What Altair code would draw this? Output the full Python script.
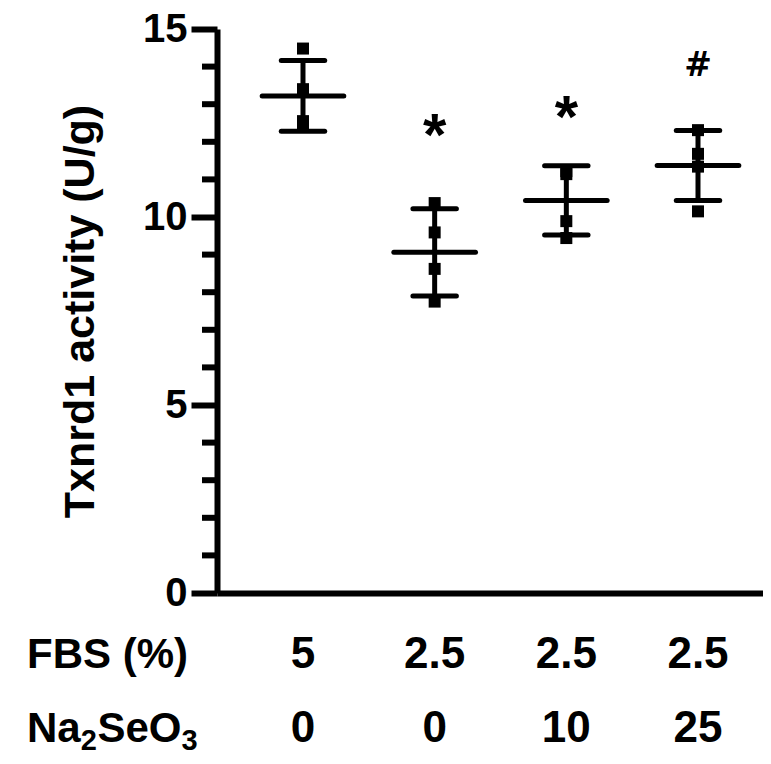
import altair as alt
import pandas as pd

# ---- data ----
positions = [1, 2, 3, 4]
fbs_labels = ["5", "2.5", "2.5", "2.5"]
na_labels = ["0", "0", "10", "25"]

means = [13.22, 9.06, 10.44, 11.37]
sds = [0.94, 1.16, 0.92, 0.93]

pts_g1 = [14.48, 13.40, 12.55, 12.47]
pts_g2 = [10.37, 9.59, 8.62, 7.75]
pts_g3 = [11.22, 11.14, 9.89, 9.44]
pts_g4 = [12.31, 11.68, 11.34, 10.15]

annot_pos = [2, 3, 4]
annot_text = ["*", "*", "#"]
annot_val = [12.45, 12.93, 14.06]

minor_ticks = [1, 2, 3, 4, 6, 7, 8, 9, 11, 12, 13, 14]
major_ticks = [0, 5, 10, 15]

# ---- styles ----
FONT = "Liberation Sans, Arial, Helvetica, sans-serif"
LW = 5
MEAN_HALF = 0.31
CAP_HALF = 0.165
PLOT_W, PLOT_H = 546, 564

xscale = alt.Scale(domain=[0.3469, 4.4937], nice=False, zero=False)
yscale = alt.Scale(domain=[0, 15], nice=False, zero=False)
xaxis = alt.Axis(labels=False, ticks=False, title=None, grid=False,
                 domainWidth=6, domainColor="black")
yaxis = alt.Axis(values=major_ticks, format="d", title="Txnrd1 activity (U/g)",
                 grid=False, domainWidth=6, domainColor="black",
                 tickWidth=6, tickSize=26, tickColor="black",
                 labelFont=FONT, labelFontSize=40, labelFontWeight="bold",
                 labelColor="black", labelPadding=4,
                 titleFont=FONT, titleFontSize=43, titleFontWeight="bold",
                 titleColor="black", titlePadding=40)


def X(f):
    return alt.X(f, type="quantitative", scale=xscale, axis=xaxis)


def Y(f):
    return alt.Y(f, type="quantitative", scale=yscale, axis=yaxis)


summary = pd.DataFrame({"pos": positions, "mean": means, "sd": sds})
summary["lo"] = summary["mean"] - summary["sd"]
summary["hi"] = summary["mean"] + summary["sd"]

rows = []
for p, vals in zip(positions, [pts_g1, pts_g2, pts_g3, pts_g4]):
    for v in vals:
        rows.append({"pos": p, "v": v})
points = pd.DataFrame(rows)

base_sum = alt.Chart(summary)

mean_line = base_sum.mark_rule(color="black", strokeWidth=LW, strokeCap="round").transform_calculate(
    xa=f"datum.pos - {MEAN_HALF}", xb=f"datum.pos + {MEAN_HALF}"
).encode(x=X("xa"), x2="xb:Q", y=Y("mean"))

cap_hi = base_sum.mark_rule(color="black", strokeWidth=LW, strokeCap="round").transform_calculate(
    xa=f"datum.pos - {CAP_HALF}", xb=f"datum.pos + {CAP_HALF}"
).encode(x=X("xa"), x2="xb:Q", y=Y("hi"))

cap_lo = base_sum.mark_rule(color="black", strokeWidth=LW, strokeCap="round").transform_calculate(
    xa=f"datum.pos - {CAP_HALF}", xb=f"datum.pos + {CAP_HALF}"
).encode(x=X("xa"), x2="xb:Q", y=Y("lo"))

stem = base_sum.mark_rule(color="black", strokeWidth=LW).encode(
    x=X("pos"), y=Y("lo"), y2="hi:Q")

squares = alt.Chart(points).mark_square(color="black", size=144, opacity=1).encode(
    x=X("pos"), y=Y("v"))

minor = alt.Chart(pd.DataFrame({"v": minor_ticks})).mark_rule(
    color="black", strokeWidth=6).encode(
    y=Y("v"), x=alt.value(-15), x2=alt.value(0))

annot = pd.DataFrame({"pos": annot_pos, "t": annot_text, "v": annot_val})
stars = alt.Chart(annot).transform_filter("datum.t == '*'").mark_text(
    font=FONT, fontWeight="bold", fontSize=60, color="black", baseline="middle", dy=12
).encode(x=X("pos"), y=Y("v"), text="t:N")
hashes = alt.Chart(annot).transform_filter("datum.t == '#'").mark_text(
    font="DejaVu Sans, sans-serif", fontWeight="bold", fontSize=33, color="black",
    baseline="middle", dy=2
).encode(x=X("pos"), y=Y("v"), text="t:N")

labels = pd.DataFrame({"pos": positions, "fbs": fbs_labels, "na": na_labels})
ROW1, ROW2 = 639, 713
fbs_text = alt.Chart(labels).mark_text(
    font=FONT, fontWeight="bold", fontSize=44, color="black", baseline="alphabetic"
).encode(x=X("pos"), y=alt.value(ROW1), text="fbs:N")
na_text = alt.Chart(labels).mark_text(
    font=FONT, fontWeight="bold", fontSize=44, color="black", baseline="alphabetic"
).encode(x=X("pos"), y=alt.value(ROW2), text="na:N")

row_fbs = alt.Chart(pd.DataFrame({"t": ["FBS (%)"]})).mark_text(
    font=FONT, fontWeight="bold", fontSize=42, color="black", align="left", baseline="alphabetic"
).encode(x=alt.value(-190), y=alt.value(ROW1), text="t:N")

# Na2SeO3 with subscripts as separate text pieces
na_parts = pd.DataFrame({
    "t": ["Na", "2", "SeO", "3"],
})


def part(i, xoff, size, yoff):
    return alt.Chart(na_parts).transform_filter(f"datum.t == '{na_parts.t[i]}'").mark_text(
        font=FONT, fontWeight="bold", fontSize=size, color="black", align="left",
        baseline="alphabetic").encode(x=alt.value(xoff), y=alt.value(ROW2 + yoff), text="t:N")


row_na = [part(0, -190, 42, 0), part(1, -136.3, 29, 8),
          part(2, -119.6, 42, 0), part(3, -35.6, 29, 8)]

chart = alt.layer(
    minor, stem, cap_hi, cap_lo, mean_line, squares, stars, hashes,
    fbs_text, na_text, row_fbs, *row_na
).properties(
    width=PLOT_W, height=PLOT_H,
    autosize=alt.AutoSizeParams(type="none"),
    padding={"left": 209, "top": 21, "right": 0, "bottom": 165},
    background="white",
).configure_view(stroke=None)

chart.save("out.html", embed_options={"renderer": "svg", "actions": False})
